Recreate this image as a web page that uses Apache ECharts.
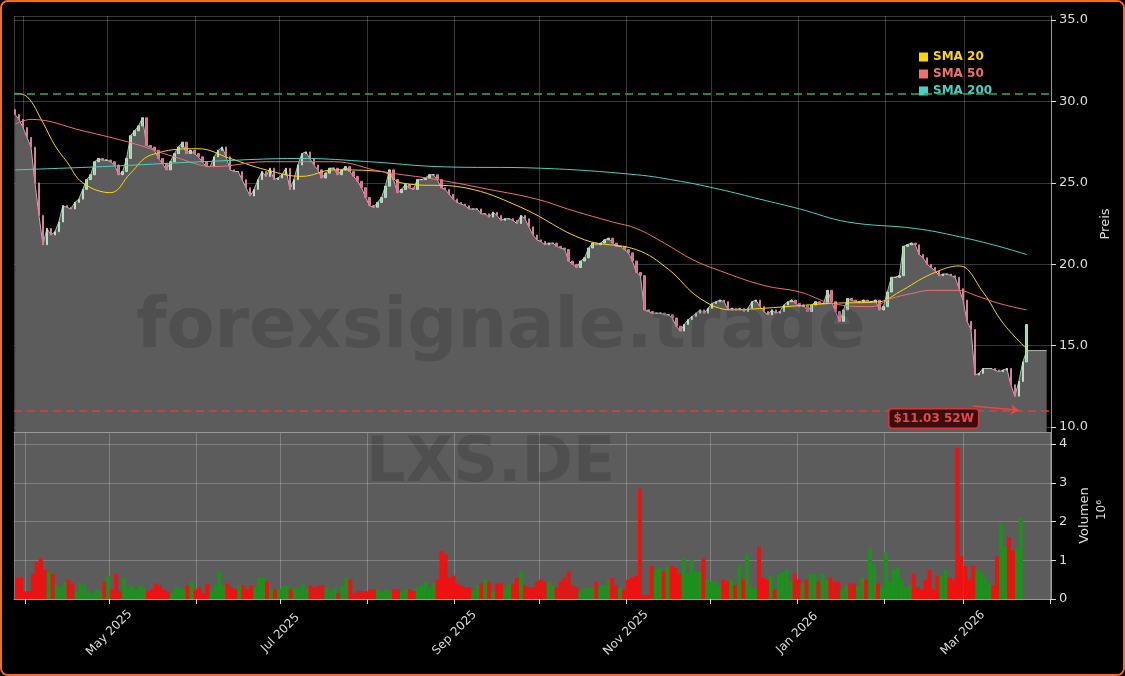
<!DOCTYPE html>
<html lang="de">
<head>
<meta charset="UTF-8">
<title>LXS.DE</title>
<script src="https://cdn.jsdelivr.net/npm/echarts@6/dist/echarts.min.js"></script>
<style>
  html, body { margin: 0; padding: 0; background: #000; }
  #frame { width: 1121px; height: 672px; border: 2px solid #ff6a13; border-radius: 8px; overflow: hidden; }
  #chart { width: 1121px; height: 672px; }
</style>
</head>
<body>
<div id="frame"><div id="chart"></div></div>
<script>
// closes, one sample per candle
var closes = [
  29.2,28.9,28.4,27.8,27.2,25.0,23.0,21.2,22.2,21.8,22.0,22.6,23.6,23.5,23.4,23.8,24.0,24.6,25.2,25.5,
  26.3,26.5,26.4,26.4,26.3,26.1,25.5,25.7,26.5,27.9,28.2,28.5,29.0,27.3,27.2,27.0,26.5,26.2,25.8,26.3,
  26.8,27.2,27.5,26.8,27.0,26.8,26.6,26.3,26.0,26.0,26.6,27.0,27.2,26.6,25.8,25.7,25.7,25.2,24.7,24.2,
  24.6,25.2,25.7,25.4,25.9,25.2,25.3,25.5,25.9,24.6,25.2,26.1,26.8,26.9,26.5,26.1,25.8,25.3,25.6,25.9,
  25.9,25.5,25.8,26.0,25.7,25.4,25.1,24.7,24.1,23.6,23.5,23.8,24.1,24.8,25.8,25.2,24.4,24.6,24.9,24.7,
  24.6,25.2,25.2,25.3,25.5,25.5,25.2,24.7,24.6,24.3,24.0,23.8,23.7,23.6,23.4,23.4,23.4,23.1,23.1,22.9,
  23.2,23.0,22.7,22.8,22.8,22.7,22.5,23.0,22.8,22.3,21.8,21.5,21.4,21.2,21.3,21.3,21.1,21.0,20.9,20.2,
  20.0,19.8,20.2,20.4,21.0,21.3,21.2,21.3,21.5,21.6,21.3,21.1,21.1,20.9,20.7,20.2,19.5,19.3,17.2,17.1,
  17.0,17.0,17.0,16.9,16.9,16.7,16.2,15.9,16.3,16.6,16.8,17.0,17.2,17.0,17.3,17.6,17.7,17.8,17.7,17.2,
  17.3,17.2,17.3,17.1,17.3,17.7,17.8,17.4,17.1,16.9,17.2,17.0,17.1,17.5,17.7,17.8,17.6,17.4,17.5,17.1,
  17.5,17.7,17.6,17.6,18.4,17.7,17.1,16.5,17.2,17.9,17.8,17.7,17.7,17.8,17.7,17.7,17.8,17.2,17.4,18.3,
  19.2,19.2,19.3,21.1,21.2,21.3,21.2,20.6,20.4,20.0,19.8,19.6,19.3,19.4,19.4,19.3,19.2,18.5,17.8,16.5,
  16.0,13.2,13.3,13.6,13.6,13.6,13.5,13.4,13.5,13.6,12.6,11.9,12.8,14.0,16.3
];
var firstOpen = 29.5;
// volume in millions
var volumes = [
  0.55,0.55,0.2,0.2,0.65,0.95,1.05,0.75,0.7,0.65,0.35,
  0.3,0.45,0.5,0.4,0.2,0.4,0.35,0.2,0.15,0.25,0.2,
  0.45,0.6,0.25,0.65,0.2,0.55,0.3,0.35,0.25,0.35,0.3,
  0.2,0.25,0.4,0.35,0.25,0.2,0.15,0.3,0.3,0.25,0.35,
  0.45,0.25,0.3,0.15,0.4,0.2,0.35,0.7,0.35,0.4,0.3,
  0.25,0.35,0.35,0.25,0.35,0.3,0.55,0.55,0.45,0.25,0.25,
  0.25,0.35,0.35,0.25,0.3,0.3,0.4,0.25,0.35,0.3,0.35,
  0.35,0.3,0.2,0.3,0.15,0.35,0.55,0.5,0.15,0.2,0.2,
  0.2,0.25,0.25,0.25,0.2,0.25,0.2,0.25,0.25,0.2,0.25,
  0.25,0.2,0.3,0.35,0.45,0.3,0.4,0.5,1.25,1.15,0.55,
  0.6,0.4,0.35,0.3,0.3,0.2,0.35,0.4,0.5,0.45,0.2,
  0.4,0.4,0.3,0.4,0.4,0.55,0.7,0.35,0.3,0.3,0.45,
  0.5,0.45,0.45,0.35,0.3,0.45,0.55,0.7,0.35,0.3,0.2,
  0.3,0.3,0.3,0.45,0.35,0.35,0.45,0.55,0.35,0.3,0.25,
  0.5,0.55,0.6,2.85,0.1,0.1,0.85,0.75,0.8,0.7,0.85,
  0.85,0.8,0.65,1.05,0.65,1.0,0.7,0.7,1.05,0.5,0.45,
  0.45,0.35,0.5,0.45,0.5,0.35,0.85,0.5,1.15,0.3,0.3,
  1.35,0.55,0.5,0.6,0.25,0.65,0.7,0.75,0.45,0.65,0.5,
  0.4,0.5,0.65,0.65,0.45,0.65,0.5,0.55,0.45,0.45,0.25,
  0.35,0.4,0.4,0.35,0.55,0.5,1.3,0.9,0.4,0.3,1.2,
  0.45,0.75,0.8,0.5,0.3,0.35,0.65,0.3,0.25,0.5,0.75,
  0.25,0.6,0.6,0.75,0.55,0.5,3.9,1.1,0.85,0.5,0.85,
  0.75,0.7,0.55,0.4,0.35,1.1,1.95,1.35,1.6,1.25,1.3,2.1
];
// moving averages as read: [candle index, value]
var sma20 = [[0,30.5],[3,30.3],[7,28.7],[10,27.3],[13,26.3],[17,25.0],[24,24.4],[29,25.6],[34,26.7],[46,27.1],
  [54,26.5],[63,25.8],[72,25.4],[80,25.8],[92,25.7],[97,25.0],[113,24.7],[127,23.5],[143,21.5],[156,20.9],
  [164,19.7],[172,17.9],[180,17.2],[188,17.3],[205,17.6],[217,17.7],[222,18.3],[230,19.4],[237,19.9],
  [243,18.3],[248,16.4],[254,14.8]];
var sma50 = [[0,28.6],[4,28.9],[17,28.2],[30,27.4],[40,26.6],[50,26.0],[63,26.3],[80,26.3],[92,25.7],[106,25.2],
  [119,24.6],[131,24.0],[140,23.3],[150,22.6],[156,22.2],[163,21.3],[170,20.3],[177,19.6],[188,18.7],[197,18.3],
  [205,17.6],[215,17.4],[220,17.9],[225,18.2],[230,18.4],[237,18.4],[241,18.1],[247,17.6],[254,17.2]];
var sma200 = [[0,25.8],[22,26.0],[47,26.3],[72,26.5],[89,26.3],[106,26.0],[132,25.9],[156,25.5],[167,25.1],
  [177,24.6],[187,24.0],[197,23.4],[209,22.6],[226,22.2],[237,21.7],[247,21.1],[254,20.6]];
var areaTail = [[254,14.7],[259,14.7]];
var high52 = 30.5, low52 = 11.03, lowIndex = 252;

var DAY = 86400000;
var t0 = Date.UTC(2025, 2, 29, 4);
var step = 1.413 * DAY; // calendar spacing between candles
function T(i) { return t0 + i * step; }

var candles = [], vols = [], area = [];
closes.forEach(function (c, i) {
  var o = i === 0 ? firstOpen : closes[i - 1];
  candles.push([T(i), o, c, Math.min(o, c), Math.max(o, c)]);
  if (i < 254) area.push([T(i), c]);
  vols.push({ value: [T(i), volumes[i]], itemStyle: { color: c >= o ? '#1f8f1f' : '#ee1111' } });
});
areaTail.forEach(function (p) { area.push([T(p[0]), p[1]]); });
function pts(a) { return a.map(function (p) { return [T(p[0]), p[1]]; }); }

var months = ['Jan','Feb','Mar','Apr','May','Jun','Jul','Aug','Sep','Oct','Nov','Dec'];
var xMin = Date.UTC(2025, 2, 28, 19), xMax = Date.UTC(2026, 2, 31, 16);
var gridCol = 'rgba(255,255,255,0.22)';

var chart = echarts.init(document.getElementById('chart'));
chart.setOption({
  backgroundColor: '#000',
  animation: false,
  graphic: [
    { type: 'text', z: 100, left: 134, top: 292, silent: true, style: { text: 'forexsignale.trade', font: 'bold 70px "DejaVu Sans"', fill: 'rgba(0,0,0,0.14)' } },
    { type: 'text', z: 100, left: 364, top: 432, silent: true, style: { text: 'LXS.DE', font: 'bold 62px "DejaVu Sans"', fill: 'rgba(0,0,0,0.14)' } },
    { type: 'text', z: 110, left: 886, top: 406, style: { text: '$11.03 52W', font: 'bold 12px "DejaVu Sans"', fill: '#e84848',
        backgroundColor: '#3a0e0e', borderColor: '#d03a3a', borderWidth: 1.5, borderRadius: 3, padding: [3, 4] } },
    { type: 'text', z: 110, left: 1094, top: 498, rotation: Math.PI / 2, style: { text: '10⁶', font: '12px "DejaVu Sans"', fill: '#ddd' } }
  ],
  legend: {
    orient: 'vertical', left: 912, top: 44, itemWidth: 9, itemHeight: 9, itemGap: 5, icon: 'rect',
    textStyle: { fontFamily: 'DejaVu Sans', fontSize: 12, fontWeight: 'bold' },
    data: [
      { name: 'SMA 20', textStyle: { color: '#ffd700' } },
      { name: 'SMA 50', textStyle: { color: '#f07070' } },
      { name: 'SMA 200', textStyle: { color: '#48d1c0' } }
    ]
  },
  grid: [
    { left: 12, right: 72, top: 14, height: 416 },
    { left: 12, right: 72, top: 430, height: 167, show: true, backgroundColor: '#5c5c5c', borderWidth: 0 }
  ],
  xAxis: [
    { type: 'time', gridIndex: 0, min: xMin, max: xMax, minInterval: 28 * DAY, maxInterval: 31 * DAY,
      axisLabel: { show: false }, axisTick: { show: false }, axisLine: { lineStyle: { color: '#999' } },
      splitLine: { show: true, lineStyle: { color: gridCol } } },
    { type: 'time', gridIndex: 1, min: xMin, max: xMax, minInterval: 28 * DAY, maxInterval: 31 * DAY,
      axisLine: { lineStyle: { color: '#999' } }, axisTick: { lineStyle: { color: '#ddd' }, length: 5 },
      splitLine: { show: true, lineStyle: { color: gridCol } },
      axisLabel: { color: '#ddd', fontSize: 12, fontFamily: 'DejaVu Sans', rotate: 45, margin: 34,
        align: 'center', verticalAlign: 'middle',
        formatter: function (v) { var d = new Date(v); var m = d.getUTCMonth();
          return (m % 2 === 0 && d.getUTCDate() === 1) ? months[m] + ' ' + d.getUTCFullYear() : ''; } } }
  ],
  yAxis: [
    { type: 'value', gridIndex: 0, position: 'right', min: 9.7, max: 35.25, splitNumber: 5,
      name: 'Preis', nameLocation: 'middle', nameRotate: 90, nameGap: 46,
      nameTextStyle: { color: '#ddd', fontSize: 13, fontFamily: 'DejaVu Sans' },
      axisLine: { show: true, lineStyle: { color: '#999' } }, axisTick: { show: true, lineStyle: { color: '#ddd' } },
      axisLabel: { color: '#ddd', fontSize: 13, fontFamily: 'DejaVu Sans', showMinLabel: false, showMaxLabel: false,
        formatter: function (v) { return v.toFixed(1); } },
      splitLine: { lineStyle: { color: gridCol } } },
    { type: 'value', gridIndex: 1, position: 'right', min: 0, max: 4.31, splitNumber: 4,
      name: 'Volumen', nameLocation: 'middle', nameRotate: 90, nameGap: 22,
      nameTextStyle: { color: '#ddd', fontSize: 13, fontFamily: 'DejaVu Sans' },
      axisLine: { show: true, lineStyle: { color: '#999' } }, axisTick: { show: true, lineStyle: { color: '#ddd' } },
      axisLabel: { color: '#ddd', fontSize: 13, fontFamily: 'DejaVu Sans', showMaxLabel: false },
      splitLine: { lineStyle: { color: gridCol } } }
  ],
  series: [
    { type: 'line', name: 'Kurs', xAxisIndex: 0, yAxisIndex: 0, data: area, symbol: 'none', z: 1,
      lineStyle: { color: '#b5b5b5', width: 1 }, areaStyle: { color: '#5c5c5c', opacity: 1, origin: 'start' },
      markLine: { silent: true, symbol: 'none', label: { show: false }, data: [
        { yAxis: high52, lineStyle: { color: '#2eaa66', type: [8, 5], width: 1.5 } },
        { yAxis: low52, lineStyle: { color: '#d84040', type: [8, 5], width: 1.5 } },
        [ { coord: [T(240.5), 11.3], symbol: 'none', lineStyle: { color: '#ee4444', type: 'solid', width: 1.5 } },
          { coord: [T(lowIndex), 11.03], symbol: 'arrow', symbolSize: 8 } ]
      ] } },
    { type: 'candlestick', name: 'OHLC', xAxisIndex: 0, yAxisIndex: 0, data: candles, barMaxWidth: 3, z: 3,
      itemStyle: { color: '#8fd89a', color0: '#e8668a', borderColor: '#b8e0c0', borderColor0: '#e07a98', borderWidth: 1 } },
    { type: 'line', name: 'SMA 20', data: pts(sma20), smooth: 0.4, symbol: 'none', z: 4, lineStyle: { color: '#ffd700', width: 1 }, itemStyle: { color: '#ffd700' } },
    { type: 'line', name: 'SMA 50', data: pts(sma50), smooth: 0.4, symbol: 'none', z: 4, lineStyle: { color: '#f07070', width: 1 }, itemStyle: { color: '#f07070' } },
    { type: 'line', name: 'SMA 200', data: pts(sma200), smooth: 0.4, symbol: 'none', z: 4, lineStyle: { color: '#48d1c0', width: 1 }, itemStyle: { color: '#48d1c0' } },
    { type: 'bar', name: 'Volumen', xAxisIndex: 1, yAxisIndex: 1, data: vols, barWidth: 4 }
  ]
});
</script>
</body>
</html>
